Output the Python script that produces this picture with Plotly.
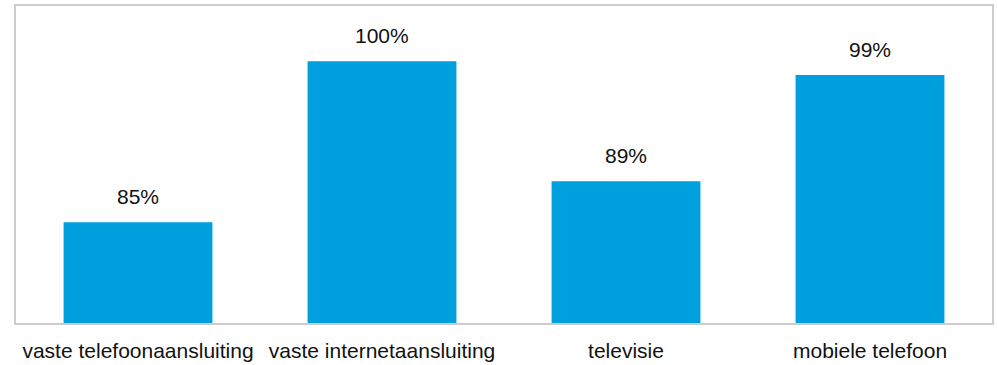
import plotly.graph_objects as go

categories = ["vaste telefoonaansluiting", "vaste internetaansluiting", "televisie", "mobiele telefoon"]
values = [84.9, 99.9, 88.7, 98.6]
labels = ["85%", "100%", "89%", "99%"]

bar_color = "#00A0DF"
font_family = "Liberation Sans, Arial, sans-serif"

fig = go.Figure()
fig.add_trace(go.Bar(
    x=categories,
    y=values,
    marker=dict(color=bar_color, line=dict(width=0)),
    hoverinfo="skip",
))

for c, v, t in zip(categories, values, labels):
    fig.add_annotation(
        x=c, y=v, text=t, showarrow=False,
        yanchor="bottom", yshift=12,
        font=dict(family=font_family, size=21, color="#111111"),
    )

fig.update_layout(
    width=997, height=365,
    margin=dict(l=16, r=3, t=6, b=39),
    paper_bgcolor="white",
    plot_bgcolor="white",
    bargap=0.39,
    showlegend=False,
    font=dict(family=font_family, size=21, color="#111111"),
)
fig.update_xaxes(
    showline=True, linewidth=2, linecolor="#cccccc", mirror=True,
    showgrid=False, ticks="", ticklabelstandoff=8,
    tickfont=dict(family=font_family, size=21, color="#111111"),
)
fig.update_yaxes(
    range=[75.5, 105.04],
    showline=True, linewidth=2, linecolor="#cccccc", mirror=True,
    showgrid=False, showticklabels=False, ticks="", zeroline=False,
)

fig.write_html("out.html")
